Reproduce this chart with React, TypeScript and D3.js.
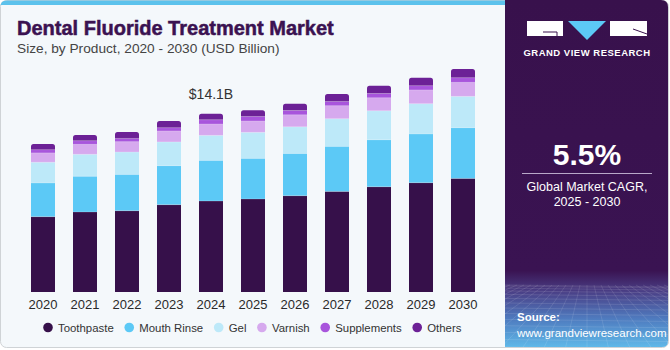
import { useEffect, useRef } from "react";
import * as d3 from "d3";

const years = ["2020", "2021", "2022", "2023", "2024", "2025", "2026", "2027", "2028", "2029", "2030"];
const toothpaste = [5.97, 6.34, 6.44, 6.92, 7.21, 7.37, 7.63, 7.97, 8.34, 8.66, 9.0];
const mouthRinse = [2.67, 2.83, 2.88, 3.09, 3.22, 3.22, 3.35, 3.57, 3.72, 3.86, 4.02];
const gel = [1.64, 1.74, 1.77, 1.88, 1.98, 2.06, 2.11, 2.19, 2.3, 2.4, 2.48];
const varnish = [0.74, 0.79, 0.82, 0.87, 0.9, 0.9, 0.95, 1.03, 1.03, 1.09, 1.11];
const supplements = [0.26, 0.29, 0.26, 0.26, 0.34, 0.36, 0.34, 0.34, 0.34, 0.34, 0.37];
const others = [0.45, 0.45, 0.5, 0.53, 0.48, 0.5, 0.53, 0.59, 0.61, 0.63, 0.69];

const seriesNames = ["Toothpaste", "Mouth Rinse", "Gel", "Varnish", "Supplements", "Others"];
const seriesColors = ["#36104a", "#5cc9f6", "#bde9f9", "#d6a9ee", "#a855dc", "#6c2196"];
const highlightYear = "2024";
const highlightLabel = "$14.1B";

const W = 670;
const H = 350;
const FONT = "'Liberation Sans', Arial, sans-serif";

export default function App() {
  const svgRef = useRef<SVGSVGElement>(null);

  useEffect(() => {
    document.body.style.margin = "0";
    if (!svgRef.current) return;
    const svg = d3.select(svgRef.current);
    svg.selectAll("*").remove();

    const defs = svg.append("defs");
    const grad = defs
      .append("linearGradient")
      .attr("id", "panelGrad")
      .attr("x1", 0)
      .attr("y1", 0)
      .attr("x2", 0)
      .attr("y2", 1);
    grad.append("stop").attr("offset", "0%").attr("stop-color", "#38114c");
    grad.append("stop").attr("offset", "78%").attr("stop-color", "#3a1352");
    grad.append("stop").attr("offset", "84%").attr("stop-color", "#4a3f86");
    grad.append("stop").attr("offset", "92%").attr("stop-color", "#4f7cc0");
    grad.append("stop").attr("offset", "100%").attr("stop-color", "#5fb8e8");
    defs
      .append("clipPath")
      .attr("id", "panelClip")
      .append("rect")
      .attr("x", 505)
      .attr("y", 0)
      .attr("width", 163)
      .attr("height", 347);

    // card
    svg
      .append("rect")
      .attr("x", 0.5)
      .attr("y", 0.5)
      .attr("width", W - 2)
      .attr("height", H - 3)
      .attr("rx", 6)
      .attr("fill", "#f4f8fb")
      .attr("stroke", "#cfd3d6");

    // top strip
    svg.append("path")
      .attr("d", "M0.5,6.5 Q0.5,0.5 6.5,0.5 L505,0.5 L505,5 L0.5,5 Z")
      .attr("fill", "#5cc2ec");

    // right panel
    svg
      .append("path")
      .attr("d", `M505,0 L661,0 Q668,0 668,7 L668,341 Q668,347 662,347 L505,347 Z`)
      .attr("fill", "url(#panelGrad)");

    // perspective grid at the panel bottom
    const grid = svg.append("g").attr("clip-path", "url(#panelClip)");
    const horizon = 285;
    const gy = d3.range(0, 14).map((i) => horizon + Math.pow(i / 13, 1.6) * 62);
    gy.forEach((y) => {
      grid
        .append("line")
        .attr("x1", 505)
        .attr("x2", 668)
        .attr("y1", y)
        .attr("y2", y + 2)
        .attr("stroke", "#ffffff")
        .attr("stroke-opacity", 0.16)
        .attr("stroke-width", 0.7);
    });
    d3.range(-20, 21).forEach((i) => {
      grid
        .append("line")
        .attr("x1", 587 + i * 7)
        .attr("y1", horizon)
        .attr("x2", 587 + i * 22)
        .attr("y2", 350)
        .attr("stroke", "#ffffff")
        .attr("stroke-opacity", 0.16)
        .attr("stroke-width", 0.7);
    });

    // logo
    const logo = svg.append("g");
    logo.append("rect").attr("x", 527).attr("y", 21).attr("width", 36).attr("height", 15).attr("fill", "#ffffff");
    logo
      .append("path")
      .attr("d", "M543,32 L557,32 L557,36")
      .attr("fill", "none")
      .attr("stroke", "#38114c")
      .attr("stroke-width", 1);
    logo.append("path").attr("d", "M568,21 L606,21 L587,40 Z").attr("fill", "#5cc9f6");
    logo.append("rect").attr("x", 610).attr("y", 21).attr("width", 37).attr("height", 15).attr("fill", "#ffffff");
    logo
      .append("path")
      .attr("d", "M633,29 L647,34")
      .attr("stroke", "#38114c")
      .attr("stroke-width", 1);
    logo
      .append("text")
      .attr("x", 587)
      .attr("y", 55.5)
      .attr("text-anchor", "middle")
      .style("font-family", FONT)
      .style("font-size", "9.5px")
      .style("font-weight", "bold")
      .style("letter-spacing", "0.5px")
      .style("fill", "#ffffff")
      .text("GRAND VIEW RESEARCH");

    // CAGR block
    svg
      .append("text")
      .attr("x", 587)
      .attr("y", 165)
      .attr("text-anchor", "middle")
      .style("font-family", FONT)
      .style("font-size", "30px")
      .style("font-weight", "bold")
      .style("fill", "#ffffff")
      .text("5.5%");
    svg
      .append("line")
      .attr("x1", 522)
      .attr("x2", 652)
      .attr("y1", 173.5)
      .attr("y2", 173.5)
      .attr("stroke", "#b9a9c9")
      .attr("stroke-width", 1.2);
    svg
      .append("text")
      .attr("x", 587)
      .attr("y", 191)
      .attr("text-anchor", "middle")
      .style("font-family", FONT)
      .style("font-size", "12.5px")
      .style("fill", "#ffffff")
      .text("Global Market CAGR,");
    svg
      .append("text")
      .attr("x", 587)
      .attr("y", 206)
      .attr("text-anchor", "middle")
      .style("font-family", FONT)
      .style("font-size", "12.5px")
      .style("fill", "#ffffff")
      .text("2025 - 2030");

    // source
    svg
      .append("text")
      .attr("x", 517)
      .attr("y", 321)
      .style("font-family", FONT)
      .style("font-size", "11.5px")
      .style("font-weight", "bold")
      .style("fill", "#ffffff")
      .text("Source:");
    svg
      .append("text")
      .attr("x", 517)
      .attr("y", 337)
      .style("font-family", FONT)
      .style("font-size", "11.5px")
      .style("fill", "#ffffff")
      .text("www.grandviewresearch.com");

    // titles
    svg
      .append("text")
      .attr("x", 17)
      .attr("y", 35)
      .style("font-family", FONT)
      .style("font-size", "20px")
      .style("font-weight", "bold")
      .style("fill", "#3b1251")
      .style("stroke", "#3b1251")
      .style("stroke-width", "0.5px")
      .text("Dental Fluoride Treatment Market");
    svg
      .append("text")
      .attr("x", 17)
      .attr("y", 53)
      .style("font-family", FONT)
      .style("font-size", "13.7px")
      .style("fill", "#444444")
      .text("Size, by Product, 2020 - 2030 (USD Billion)");

    // Scales
    const xScale = d3
      .scaleBand()
      .domain(years)
      .range([22, 484])
      .paddingInner(0.4286)
      .paddingOuter(0.2143);
    const yScale = d3.scaleLinear().domain([0, 20]).range([292, 292 - 20 * 12.62]);

    const table = years.map((y, i) => ({
      year: y,
      Toothpaste: toothpaste[i],
      "Mouth Rinse": mouthRinse[i],
      Gel: gel[i],
      Varnish: varnish[i],
      Supplements: supplements[i],
      Others: others[i],
    }));
    const stacked = d3.stack<any>().keys(seriesNames)(table);
    const color = d3.scaleOrdinal<string>().domain(seriesNames).range(seriesColors);

    const bw = xScale.bandwidth();
    stacked.forEach((layer, li) => {
      const isTop = li === stacked.length - 1;
      layer.forEach((d) => {
        const x = xScale(d.data.year) || 0;
        const y0 = yScale(d[0]);
        const y1 = yScale(d[1]);
        if (isTop) {
          const r = 2.5;
          svg
            .append("path")
            .attr(
              "d",
              `M${x},${y0} L${x},${y1 + r} Q${x},${y1} ${x + r},${y1} L${x + bw - r},${y1} Q${x + bw},${y1} ${x + bw},${y1 + r} L${x + bw},${y0} Z`
            )
            .attr("fill", color(layer.key));
        } else {
          svg
            .append("rect")
            .attr("x", x)
            .attr("y", y1)
            .attr("width", bw)
            .attr("height", y0 - y1)
            .attr("fill", color(layer.key));
        }
      });
    });
    // faint separators between segments
    stacked.slice(0, -1).forEach((layer) => {
      layer.forEach((d) => {
        const x = xScale(d.data.year) || 0;
        svg
          .append("line")
          .attr("x1", x)
          .attr("x2", x + bw)
          .attr("y1", yScale(d[1]))
          .attr("y2", yScale(d[1]))
          .attr("stroke", "#ffffff")
          .attr("stroke-opacity", 0.35)
          .attr("stroke-width", 0.6);
      });
    });

    // value label
    const hi = years.indexOf(highlightYear);
    const hiTotal = stacked[stacked.length - 1][hi][1];
    svg
      .append("text")
      .attr("x", (xScale(highlightYear) || 0) + bw / 2)
      .attr("y", yScale(hiTotal) - 15)
      .attr("text-anchor", "middle")
      .style("font-family", FONT)
      .style("font-size", "14px")
      .style("fill", "#333333")
      .text(highlightLabel);

    // X axis
    const xAxis = svg
      .append("g")
      .attr("transform", `translate(0,292)`)
      .call(d3.axisBottom(xScale).tickSize(0).tickPadding(8));
    xAxis.select(".domain").remove();
    xAxis
      .selectAll("text")
      .style("font-family", FONT)
      .style("font-size", "13px")
      .style("fill", "#2a2a2a");

    // Legend
    const legend = svg.append("g");
    let lx = 48;
    seriesNames.forEach((name) => {
      legend.append("circle").attr("cx", lx).attr("cy", 327.5).attr("r", 4.8).attr("fill", color(name));
      const t = legend
        .append("text")
        .attr("x", lx + 10)
        .attr("y", 332)
        .style("font-family", FONT)
        .style("font-size", "11.4px")
        .style("fill", "#333333")
        .text(name);
      const w = (t.node() as SVGTextElement).getComputedTextLength();
      lx += 10 + w + 15.5;
    });
  }, []);

  return <svg ref={svgRef} width={W} height={H} style={{ display: "block" }} />;
}
